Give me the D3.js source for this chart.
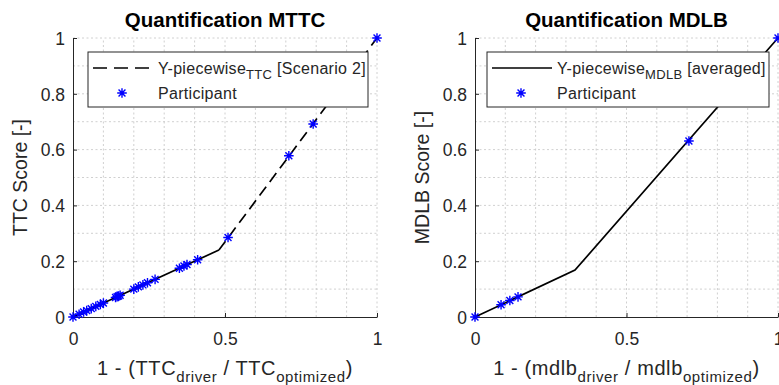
<!DOCTYPE html>
<html>
<head>
<meta charset="utf-8">
<script src="https://cdn.jsdelivr.net/npm/d3@7"></script>
<style>
  html, body { margin: 0; padding: 0; background: #fff; }
  svg { display: block; font-family: "Liberation Sans", Arial, Helvetica, sans-serif; }
</style>
</head>
<body>
<svg id="chart" width="779" height="385"></svg>
<script>
// ---------- data ----------
const xTicks = [0, 0.5, 1];
const yTicks = [0, 0.2, 0.4, 0.6, 0.8, 1];
const xTickLabels = ["0", "0.5", "1"];
const yTickLabels = ["0", "0.2", "0.4", "0.6", "0.8", "1"];

const ttcLineX = [0, 0.48, 1];
const ttcLineY = [0, 0.24, 1];
const ttcPartX = [0, 0.02, 0.035, 0.045, 0.06, 0.075, 0.09, 0.1, 0.14, 0.145, 0.15, 0.155,
                  0.2, 0.215, 0.23, 0.245, 0.27, 0.35, 0.365, 0.375, 0.41, 0.51, 0.71, 0.79, 1.0];
const ttcPartY = [0, 0.01, 0.018, 0.023, 0.03, 0.038, 0.045, 0.05, 0.07, 0.073, 0.075, 0.078,
                  0.1, 0.108, 0.115, 0.123, 0.135, 0.175, 0.183, 0.188, 0.205, 0.285, 0.578, 0.692, 1.0];

const mdlbLineX = [0, 0.33, 1];
const mdlbLineY = [0, 0.168, 1];
const mdlbPartX = [0, 0.086, 0.115, 0.142, 0.706, 1.0];
const mdlbPartY = [0, 0.044, 0.059, 0.072, 0.631, 1.0];

// ---------- drawing ----------
const svg = d3.select("#chart");
const axisColor = "#262626";
const blue = "#0000ff";

function asterisk(g, cx, cy) {
  const r = 4.8, d = r * 0.72;
  g.append("path")
    .attr("d", `M${cx - r},${cy}L${cx + r},${cy}M${cx},${cy - r}L${cx},${cy + r}` +
               `M${cx - d},${cy - d}L${cx + d},${cy + d}M${cx - d},${cy + d}L${cx + d},${cy - d}`)
    .attr("stroke", blue).attr("stroke-width", 1.4).attr("fill", "none");
}

function panel(opts) {
  const x = d3.scaleLinear().domain([0, 1]).range([opts.left, opts.right]);
  const y = d3.scaleLinear().domain([0, 1]).range([317, 38]);
  const g = svg.append("g");

  // grid (major + minor, every 0.1)
  const gridVals = d3.range(0, 11).map(i => i / 10);
  g.append("g").selectAll("line.gx").data(gridVals.slice(1)).join("line")
    .attr("x1", d => x(d)).attr("x2", d => x(d)).attr("y1", y(0)).attr("y2", y(1))
    .attr("stroke", "#c4c4c4").attr("stroke-width", 0.8).attr("stroke-dasharray", "2,2.5");
  g.append("g").selectAll("line.gy").data(gridVals.slice(1)).join("line")
    .attr("y1", d => y(d)).attr("y2", d => y(d)).attr("x1", x(0)).attr("x2", x(1))
    .attr("stroke", "#c4c4c4").attr("stroke-width", 0.8).attr("stroke-dasharray", "2,2.5");

  // axes (ticks inward)
  const xAxis = d3.axisBottom(x).tickValues(xTicks).tickSize(-4)
    .tickFormat((d, i) => xTickLabels[i]).tickSizeOuter(0);
  const yAxis = d3.axisLeft(y).tickValues(yTicks).tickSize(-4)
    .tickFormat((d, i) => yTickLabels[i]).tickSizeOuter(0);
  const gx = g.append("g").attr("transform", `translate(0,${y(0)})`).call(xAxis);
  const gy = g.append("g").attr("transform", `translate(${x(0)},0)`).call(yAxis);
  [gx, gy].forEach(a => {
    a.select(".domain").attr("stroke", axisColor).attr("stroke-width", 1);
    a.selectAll(".tick line").attr("stroke", axisColor);
    a.selectAll(".tick text").attr("fill", axisColor).attr("font-size", 17.5)
      .attr("font-family", "Liberation Sans, Arial, sans-serif");
  });
  gx.selectAll(".tick text").attr("y", 0).attr("dy", 28);
  gy.selectAll(".tick text").attr("x", -8).attr("dy", "0.36em");

  // lines
  const lineGen = d3.line().x(d => x(d[0])).y(d => y(d[1]));
  const pts = opts.lineX.map((v, i) => [v, opts.lineY[i]]);
  if (opts.dashed) {
    g.append("path").attr("d", lineGen(pts.slice(0, 2)))
      .attr("fill", "none").attr("stroke", "#000").attr("stroke-width", 1.7);
    g.append("path").attr("d", lineGen(pts.slice(1)))
      .attr("fill", "none").attr("stroke", "#000").attr("stroke-width", 1.7)
      .attr("stroke-dasharray", "11,6");
  } else {
    g.append("path").attr("d", lineGen(pts))
      .attr("fill", "none").attr("stroke", "#000").attr("stroke-width", 1.7);
  }

  // participants
  const mg = g.append("g");
  opts.partX.forEach((v, i) => asterisk(mg, x(v), y(opts.partY[i])));

  // title
  g.append("text").attr("x", (opts.left + opts.right) / 2).attr("y", 27)
    .attr("text-anchor", "middle").attr("font-size", 20.5).attr("font-weight", "bold")
    .attr("fill", "#000").text(opts.title);

  // y label
  g.append("text")
    .attr("transform", `translate(${opts.left - 46},${(38 + 317) / 2}) rotate(-90)`)
    .attr("text-anchor", "middle").attr("font-size", 19.5).attr("fill", axisColor)
    .text(opts.yLabel);

  // x label with subscripts
  const xl = g.append("text").attr("x", (opts.left + opts.right) / 2).attr("y", 375)
    .attr("text-anchor", "middle").attr("font-size", 20).attr("letter-spacing", 0.6)
    .attr("fill", axisColor);
  xl.append("tspan").text("1 - (" + opts.sym);
  xl.append("tspan").attr("font-size", 15).attr("dy", 7).text("driver");
  xl.append("tspan").attr("dy", -7).text(" / " + opts.sym);
  xl.append("tspan").attr("font-size", 15).attr("dy", 7).text("optimized");
  xl.append("tspan").attr("dy", -7).text(")");

  // legend
  const lx = opts.legLeft, lw = opts.legWidth;
  const lg = g.append("g");
  lg.append("rect").attr("x", lx).attr("y", 52).attr("width", lw).attr("height", 55)
    .attr("fill", "#fff").attr("stroke", axisColor).attr("stroke-width", 1);
  lg.append("line").attr("x1", lx + 5).attr("x2", lx + 65).attr("y1", 68).attr("y2", 68)
    .attr("stroke", "#000").attr("stroke-width", 1.7)
    .attr("stroke-dasharray", opts.dashed ? "14,7" : null);
  const t1 = lg.append("text").attr("x", lx + 70).attr("y", 73.5)
    .attr("font-size", 16).attr("letter-spacing", 0.3).attr("fill", axisColor);
  t1.append("tspan").text("Y-piecewise");
  t1.append("tspan").attr("font-size", 13).attr("dy", 5).text(opts.legSub);
  t1.append("tspan").attr("dy", -5).text(" " + opts.legTail);
  asterisk(lg, lx + 34, 93);
  lg.append("text").attr("x", lx + 70).attr("y", 98.5)
    .attr("font-size", 16).attr("letter-spacing", 0.3).attr("fill", axisColor).text("Participant");
}

panel({
  left: 73, right: 377, title: "Quantification MTTC", yLabel: "TTC Score [-]", sym: "TTC",
  lineX: ttcLineX, lineY: ttcLineY, partX: ttcPartX, partY: ttcPartY, dashed: true,
  legLeft: 88, legWidth: 280, legSub: "TTC", legTail: "[Scenario 2]"
});
panel({
  left: 475, right: 778, title: "Quantification MDLB", yLabel: "MDLB Score [-]", sym: "mdlb",
  lineX: mdlbLineX, lineY: mdlbLineY, partX: mdlbPartX, partY: mdlbPartY, dashed: false,
  legLeft: 487, legWidth: 282, legSub: "MDLB", legTail: "[averaged]"
});
</script>
</body>
</html>
